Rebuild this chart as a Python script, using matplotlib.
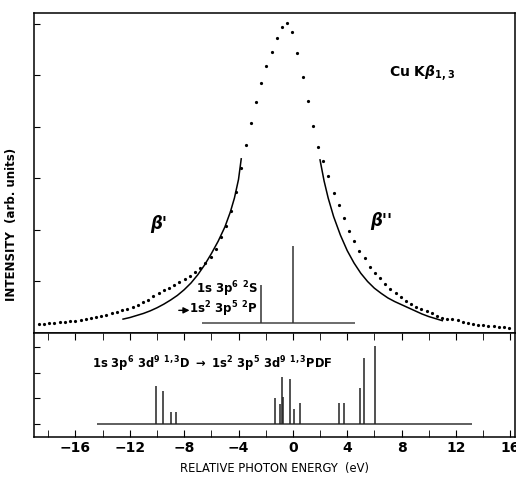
import numpy as np
import matplotlib
matplotlib.use("Agg")
import matplotlib.pyplot as plt
from matplotlib.ticker import MultipleLocator

exp_e = [-18.70, -18.32, -17.93, -17.55, -17.17, -16.78, -16.40, -16.02, -15.63, -15.25,
         -14.87, -14.48, -14.10, -13.72, -13.33, -12.95, -12.57, -12.18, -11.80, -11.42,
         -11.03, -10.65, -10.27, -9.88, -9.50, -9.12, -8.73, -8.35, -7.97, -7.58,
         -7.20, -6.82, -6.44, -6.06, -5.68, -5.30, -4.92, -4.54, -4.16, -3.84,
         -3.46, -3.08, -2.70, -2.32, -1.94, -1.56, -1.18, -0.80, -0.42, -0.04,
         0.34, 0.72, 1.10, 1.48, 1.86, 2.24, 2.62, 3.00, 3.38, 3.76,
         4.14, 4.52, 4.90, 5.28, 5.66, 6.04, 6.42, 6.80, 7.18, 7.56,
         7.94, 8.32, 8.70, 9.08, 9.46, 9.84, 10.22, 10.60, 10.98, 11.36,
         11.74, 12.12, 12.50, 12.88, 13.26, 13.64, 14.02, 14.40, 14.78, 15.16,
         15.54, 15.92]
exp_i = [0.17, 0.18, 0.19, 0.20, 0.21, 0.22, 0.23, 0.24, 0.25, 0.27,
         0.29, 0.31, 0.33, 0.35, 0.38, 0.41, 0.44, 0.47, 0.51, 0.55,
         0.60, 0.65, 0.71, 0.77, 0.83, 0.88, 0.93, 0.99, 1.05, 1.11,
         1.18, 1.26, 1.36, 1.48, 1.64, 1.86, 2.08, 2.36, 2.74, 3.20,
         3.65, 4.08, 4.49, 4.85, 5.18, 5.45, 5.72, 5.94, 6.01, 5.84,
         5.43, 4.96, 4.50, 4.01, 3.61, 3.34, 3.04, 2.71, 2.48, 2.23,
         1.98, 1.79, 1.60, 1.45, 1.29, 1.17, 1.07, 0.96, 0.86, 0.77,
         0.70, 0.63, 0.57, 0.51, 0.46, 0.42, 0.38, 0.34, 0.30, 0.28,
         0.27, 0.25, 0.22, 0.20, 0.18, 0.16, 0.15, 0.14, 0.13, 0.12,
         0.11, 0.10]

# calculated wings (solid lines)
left_e = [-12.5, -12.0, -11.5, -11.0, -10.5, -10.0, -9.5, -9.0, -8.5, -8.0, -7.5, -7.0,
          -6.5, -6.0, -5.5, -5.0, -4.6, -4.3, -4.0, -3.8]
left_i = [0.27, 0.30, 0.34, 0.38, 0.43, 0.49, 0.56, 0.64, 0.73, 0.84, 0.97, 1.13,
          1.32, 1.54, 1.78, 2.06, 2.35, 2.62, 2.98, 3.38]
right_e = [2.0, 2.3, 2.6, 3.0, 3.5, 4.0, 4.5, 5.0, 5.5, 6.0, 6.5, 7.0, 7.5, 8.0, 8.5,
           9.0, 9.5, 10.0, 10.5, 11.0]
right_i = [3.36, 2.95, 2.62, 2.26, 1.90, 1.60, 1.36, 1.16, 1.00, 0.87, 0.77, 0.68, 0.61,
           0.55, 0.49, 0.43, 0.37, 0.32, 0.28, 0.24]

# 1s3p6 2S -> 1s2 3p5 2P sticks
stick1_e = [-2.35, 0.0]
stick1_h = [0.73, 1.49]
stick1_base = 0.2
stick1_range = [-6.7, 4.6]

# 1s3p6 3d9 1,3D -> 1s2 3p5 3d9 1,3PDF sticks
stick2_e = [-10.04, -9.56, -8.94, -8.57, -1.35, -0.93, -0.83, -0.76, -0.24, 0.10,
            0.49, 3.38, 3.73, 4.95, 5.27, 6.03]
stick2_h = [1.49, 1.27, 0.48, 0.48, 1.01, 0.78, 1.84, 1.04, 1.75, 0.58,
            0.82, 0.84, 0.84, 1.40, 2.57, 3.02]
stick2_range = [-14.45, 13.2]

plt.rcParams['font.family'] = ['DejaVu Sans']
plt.rcParams['font.weight'] = 'bold'
plt.rcParams['mathtext.fontset'] = 'custom'
plt.rcParams['mathtext.rm'] = 'DejaVu Sans:bold'
plt.rcParams['mathtext.it'] = 'DejaVu Sans:bold:italic'
plt.rcParams['mathtext.bf'] = 'DejaVu Sans:bold'

fig = plt.figure(figsize=(5.16, 4.78), dpi=100)
ax1 = fig.add_axes([0.066, 0.3033, 0.932, 0.6695])
ax2 = fig.add_axes([0.066, 0.0858, 0.932, 0.2175], sharex=ax1)

# upper panel
ax1.plot(exp_e, exp_i, 'o', color='black', markersize=2.3, markeredgewidth=0)
ax1.plot(left_e, left_i, '-', color='black', lw=1.1)
ax1.plot(right_e, right_i, '-', color='black', lw=1.1)
ax1.hlines(stick1_base, stick1_range[0], stick1_range[1], color='#444444', lw=1.1)
ax1.vlines(stick1_e, stick1_base, np.array(stick1_h) + stick1_base, color='#333333', lw=1.1)

ax1.set_xlim(-19.05, 16.35)
ax1.set_ylim(0, 6.21)
ax1.set_yticks([1, 2, 3, 4, 5, 6])
ax1.tick_params(axis='y', direction='in', length=4, labelleft=False)
ax1.tick_params(axis='x', bottom=False, labelbottom=False)

ax1.text(7.1, 5.05, r"Cu K$\beta_{1,3}$", fontsize=10, ha='left', va='center')
ax1.text(-10.5, 2.12, "\u03b2'", fontsize=12, style='italic', ha='left', va='center')
ax1.text(5.7, 2.17, "\u03b2''", fontsize=12, style='italic', ha='left', va='center')
ax1.text(-2.6, 0.86, r"1s 3p$^6$ $^2$S", fontsize=8.5, ha='right', va='center')
ax1.text(-2.6, 0.46, r"1s$^2$ 3p$^5$ $^2$P", fontsize=8.5, ha='right', va='center')
ax1.annotate("", xy=(-7.4, 0.44), xytext=(-8.6, 0.44),
             arrowprops=dict(arrowstyle='-|>', color='black', lw=1.0, mutation_scale=9))

# lower panel
ax2.hlines(0, stick2_range[0], stick2_range[1], color='#333333', lw=1.1)
ax2.vlines(stick2_e, 0, stick2_h, color='#222222', lw=1.1)
ax2.set_ylim(-0.5, 3.54)
ax2.set_yticks([0, 1, 2, 3])
ax2.tick_params(axis='y', direction='in', length=4, labelleft=False)
ax2.xaxis.set_major_locator(MultipleLocator(4))
ax2.xaxis.set_minor_locator(MultipleLocator(2))
ax2.tick_params(axis='x', which='both', direction='in', top=True, bottom=True,
                length=5, labelsize=10, pad=3)
ax2.xaxis.set_major_formatter(plt.FuncFormatter(lambda v, p: f"{int(v)}".replace('-', '\u2212')))
ax2.text(-14.8, 2.33,
         r"1s 3p$^6$ 3d$^9$ $^{1,3}$D $\rightarrow$ 1s$^2$ 3p$^5$ 3d$^9$ $^{1,3}$PDF",
         fontsize=8.3, ha='left', va='center')

for ax in (ax1, ax2):
    for sp in ax.spines.values():
        sp.set_linewidth(1.1)

ax2.set_xlabel("RELATIVE PHOTON ENERGY  (eV)", fontsize=8.3, labelpad=5)
fig.text(0.022, 0.53, "INTENSITY  (arb. units)", rotation=90, fontsize=8.5,
         ha='center', va='center')

fig.savefig("out.png", dpi=100)
